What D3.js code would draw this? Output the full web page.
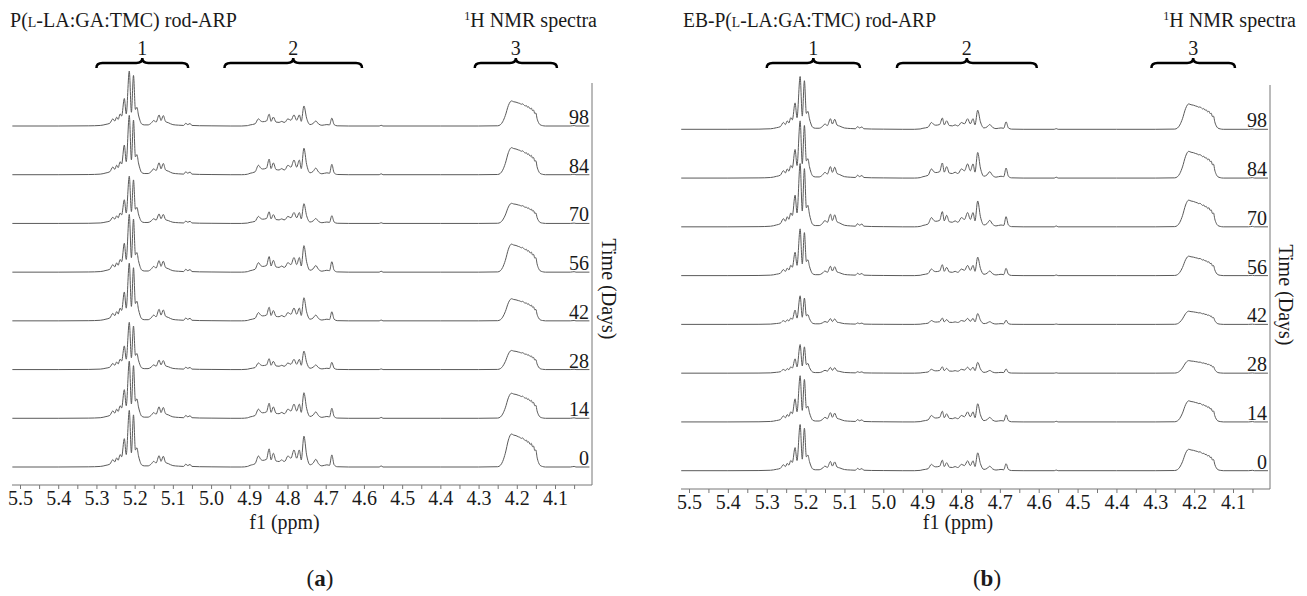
<!DOCTYPE html>
<html><head><meta charset="utf-8">
<script src="https://cdn.jsdelivr.net/npm/d3@7"></script>
<style>
body{margin:0;background:#fff}
svg{display:block}
svg text{font-family:"Liberation Serif","Times New Roman",serif !important;fill:#1a1a1a}
</style>
</head><body>
<svg id="chart" width="1307" height="596"></svg>
<script>
// ---------------- DATA ----------------
const days = [98, 84, 70, 56, 42, 28, 14, 0];
const tickLabels = ["5.5","5.4","5.3","5.2","5.1","5.0","4.9","4.8","4.7","4.6","4.5","4.4","4.3","4.2","4.1"];
const minorTicks = [5.45,5.35,5.25,5.15,5.05,4.95,4.85,4.75,4.65,4.55,4.45,4.35,4.25,4.15,4.05];
const regionLabels = ["1", "2", "3"];
const braceFrom = [5.30, 4.965, 4.31];
const braceTo   = [5.06, 4.605, 4.095];

// template spectrum (ppm, relative intensity; tallest lactide peak = 1)
const templatePpm = [
 5.52,5.40,5.32,5.29,5.275,5.265,5.257,5.252,5.247,5.243,5.238,5.234,5.227,5.222,5.214,5.2085,5.203,5.198,5.194,5.190,5.186,5.182,5.175,5.165,5.157,5.150,5.144,5.136,5.131,5.125,5.119,5.112,5.100,5.085,5.072,5.066,5.061,5.055,5.050,5.030,5.000,4.950,
 4.920,4.905,4.898,4.885,4.876,4.870,4.865,4.855,4.848,4.843,4.837,4.830,4.822,4.815,4.809,4.806,4.799,4.791,4.783,4.776,4.769,4.764,4.757,4.750,4.741,4.733,4.726,4.719,4.710,4.697,4.690,4.684,4.678,4.670,4.640,4.560,4.555,4.550,4.400,
 4.300,4.250,4.243,4.237,4.230,4.222,4.217,4.214,4.208,4.202,4.196,4.192,4.188,4.185,4.181,4.178,4.175,4.172,4.169,4.165,4.162,4.159,4.156,4.153,4.150,4.147,4.143,4.139,4.133,4.125,4.060,4.050,4.045,4.010
];
const templateInt = [
 0,0,0.003,0.01,0.03,0.05,0.13,0.09,0.16,0.12,0.22,0.18,0.50,0.22,1.00,0.25,0.92,0.30,0.34,0.20,0.10,0.04,0.02,0.02,0.05,0.10,0.07,0.20,0.10,0.19,0.08,0.06,0.025,0.015,0.01,0.05,0.025,0.045,0.01,0.005,0.003,0,
 0,0.01,0.03,0.06,0.20,0.14,0.12,0.14,0.33,0.13,0.25,0.11,0.10,0.13,0.10,0.11,0.20,0.16,0.31,0.16,0.31,0.13,0.56,0.22,0.04,0.07,0.14,0.06,0.02,0.04,0.03,0.22,0.04,0.005,0,0,0.02,0,0,
 0,0.005,0.03,0.10,0.25,0.49,0.58,0.60,0.58,0.57,0.55,0.54,0.52,0.53,0.50,0.48,0.49,0.45,0.46,0.41,0.43,0.37,0.38,0.30,0.31,0.18,0.08,0.03,0.01,0,0,0.01,0,0
];

// per-spectrum scale factors for region 1 / 2 / 3 (order of `days`)
const scaleA1 = [1.00, 1.08, 0.86, 1.05, 1.05, 0.86, 1.04, 1.03];
const scaleA2 = [0.65, 0.86, 0.64, 0.86, 0.75, 0.60, 0.83, 1.00];
const scaleA3 = [0.76, 0.82, 0.61, 0.85, 0.67, 0.58, 0.76, 1.00];
const scaleB1 = [0.96, 1.04, 1.15, 0.85, 0.52, 0.52, 0.84, 0.84];
const scaleB2 = [0.62, 0.83, 0.84, 0.60, 0.35, 0.35, 0.59, 0.58];
const scaleB3 = [0.77, 0.81, 0.81, 0.59, 0.40, 0.38, 0.64, 0.65];

// ---------------- LAYOUT ----------------
const FONT = '"Liberation Serif","Times New Roman",serif';
const svg = d3.select("#chart");
const panels = [
  {name:"a", title:["P(", "l", "-LA:GA:TMC) rod-ARP"], titleX:10, titleW:227, specRight:597,
   x0:20, x1:555, lineLeft:12, vline:592, vTop:83, axisY:485, yTop:126, yBot:467,
   labelRight:589, timeX:609, timeY:289, capX:320, scales:[scaleA1, scaleA2, scaleA3]},
  {name:"b", title:["EB-P(", "l", "-LA:GA:TMC) rod-ARP"], titleX:683, titleW:253, specRight:1296,
   x0:689, x1:1233, lineLeft:681, vline:1270, vTop:85, axisY:489, yTop:129.3, yBot:470.7,
   labelRight:1267, timeX:1286, timeY:295, capX:987, scales:[scaleB1, scaleB2, scaleB3]}
];

function regionOf(p){ return p >= 4.95 ? 0 : (p > 4.4 ? 1 : 2); }

panels.forEach(P => {
  const g = svg.append("g").style("font-family", FONT);
  const x = d3.scaleLinear().domain([5.5, 4.1]).range([P.x0, P.x1]);
  const yBase = d3.scaleLinear().domain([98, 0]).range([P.yTop, P.yBot]);
  const amp = d3.scaleLinear().domain([0, 1]).range([0, 55]);

  // titles
  const t = g.append("text").attr("x", P.titleX).attr("y", 27).attr("font-size", 20)
    .attr("textLength", P.titleW).attr("lengthAdjust", "spacingAndGlyphs");
  t.append("tspan").text(P.title[0]);
  t.append("tspan").style("font-variant", "small-caps").text(P.title[1]);
  t.append("tspan").text(P.title[2]);
  const s = g.append("text").attr("x", P.specRight).attr("y", 27).attr("font-size", 20).attr("text-anchor", "end");
  s.append("tspan").attr("font-size", 12).attr("dy", -7).text("1");
  s.append("tspan").attr("dy", 7).text("H NMR spectra");

  // braces
  regionLabels.forEach((lab, i) => {
    const xa = x(braceFrom[i]), xb = x(braceTo[i]), xm = (xa + xb) / 2, y = 63, r = 6;
    const path = `M${xa},${y+5} Q${xa},${y} ${xa+r},${y} L${xm-r},${y} Q${xm},${y} ${xm},${y-5} Q${xm},${y} ${xm+r},${y} L${xb-r},${y} Q${xb},${y} ${xb},${y+5}`;
    g.append("path").attr("d", path).attr("fill", "none").attr("stroke", "#000").attr("stroke-width", 2.5);
    g.append("text").attr("x", xm).attr("y", 55).attr("font-size", 20).attr("text-anchor", "middle").text(lab);
  });

  // spectra
  const line = d3.line().x(d => x(d[0])).y(d => d[1]).curve(d3.curveMonotoneX);
  days.forEach((day, k) => {
    const b = yBase(day);
    const pts = templatePpm.map((p, i) => [p, b - amp(templateInt[i] * P.scales[regionOf(p)][k])]);
    g.append("path").attr("d", line(pts)).attr("fill", "none").attr("stroke", "#5a5a5a").attr("stroke-width", 1);
    g.append("text").attr("x", P.labelRight).attr("y", b - 2).attr("font-size", 20).attr("text-anchor", "end").text(day);
  });

  // axes
  g.append("line").attr("x1", P.lineLeft).attr("x2", P.vline).attr("y1", P.axisY).attr("y2", P.axisY)
    .attr("stroke", "#777").attr("stroke-width", 1);
  g.append("line").attr("x1", P.vline).attr("x2", P.vline).attr("y1", P.vTop).attr("y2", P.axisY)
    .attr("stroke", "#777").attr("stroke-width", 1);
  const ticks = tickLabels.map(Number).concat(minorTicks);
  const axis = d3.axisBottom(x).tickValues(ticks).tickSize(4).tickPadding(2)
    .tickFormat(d => { const l = tickLabels.find(v => Math.abs(+v - d) < 1e-6); return l || ""; });
  const ag = g.append("g").attr("transform", `translate(0,${P.axisY})`).call(axis);
  ag.attr("font-family", null).attr("font-size", null).style("font-family", FONT);
  ag.select(".domain").remove();
  ag.selectAll(".tick line").attr("stroke", "#777");
  ag.selectAll(".tick text").attr("font-size", 20).style("font-family", FONT).attr("fill", "#1a1a1a");

  g.append("text").attr("x", x(4.8) - 3).attr("y", 529).attr("font-size", 20).attr("text-anchor", "middle").text("f1 (ppm)");
  g.append("text").attr("transform", `translate(${P.timeX},${P.timeY}) rotate(90)`).attr("font-size", 20)
    .attr("text-anchor", "middle").attr("dy", "0.35em").text("Time (Days)");

  const c = g.append("text").attr("x", P.capX).attr("y", 586).attr("font-size", 23).attr("text-anchor", "middle");
  c.append("tspan").text("(");
  c.append("tspan").attr("font-weight", "bold").text(P.name);
  c.append("tspan").text(")");
});
</script>
</body></html>
